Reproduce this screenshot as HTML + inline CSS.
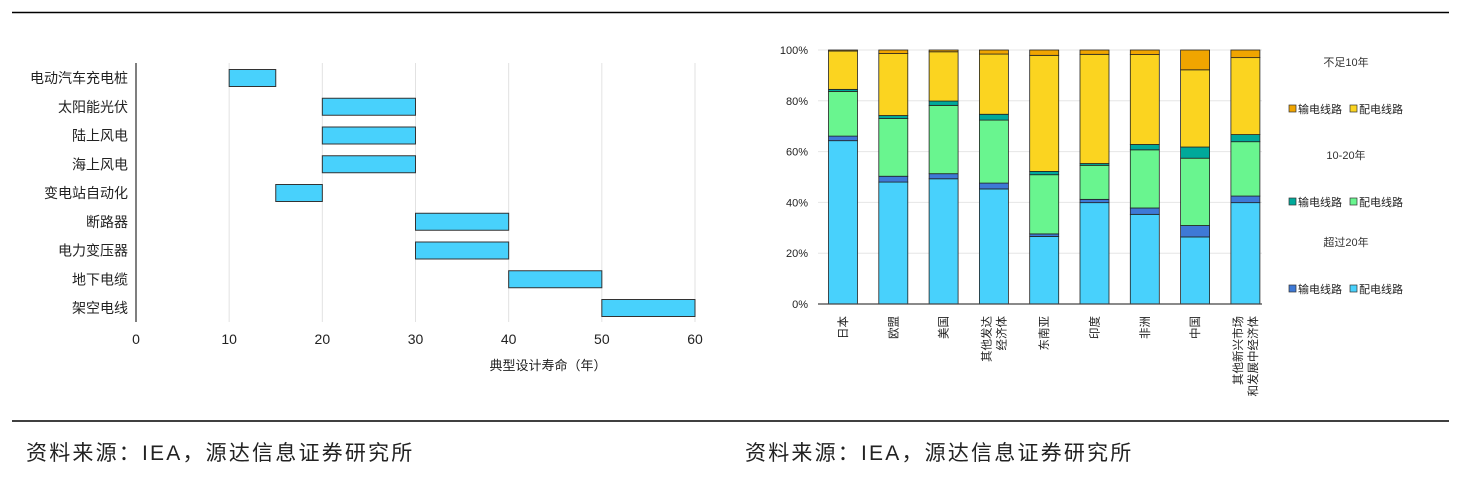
<!DOCTYPE html>
<html><head><meta charset="utf-8">
<style>
body{margin:0;background:#fff;width:1473px;height:481px;overflow:hidden;font-family:"Liberation Sans","Noto Sans CJK SC",sans-serif;}
svg{position:absolute;left:0;top:0}
text{font-family:"Liberation Sans","Noto Sans CJK SC",sans-serif;}
</style></head>
<body>
<svg id="s" width="1473" height="481">
<line x1="12" y1="12.5" x2="1449" y2="12.5" stroke="#000" stroke-width="1.5"/>
<line x1="12" y1="421" x2="1449" y2="421" stroke="#000" stroke-width="1.5"/>
<text x="26" y="460" font-size="21" letter-spacing="2.2" fill="#222">资料来源：IEA，源达信息证券研究所</text>
<text x="745" y="460" font-size="21" letter-spacing="2.2" fill="#222">资料来源：IEA，源达信息证券研究所</text>
<g id="left"></g>
<g id="right"></g>
</svg>
<script>
const NS="http://www.w3.org/2000/svg";
function mk(p,t,a,txt){const e=document.createElementNS(NS,t);for(const k in a)e.setAttribute(k,a[k]);if(txt!==undefined)e.textContent=txt;p.appendChild(e);return e;}

// Left chart data
const lCats=["电动汽车充电桩","太阳能光伏","陆上风电","海上风电","变电站自动化","断路器","电力变压器","地下电缆","架空电线"];
const lStart=[10,20,20,20,15,30,30,40,50];
const lEnd=[15,30,30,30,20,40,40,50,60];
const lTicks=[0,10,20,30,40,50,60];

// Right chart data
const rCats=[["日本"],["欧盟"],["美国"],["其他发达","经济体"],["东南亚"],["印度"],["非洲"],["中国"],["其他新兴市场","和发展中经济体"]];
const over20Dist=[64.3,48.0,49.3,45.3,26.6,39.9,35.3,26.4,39.9];
const over20Trans=[1.8,2.3,2.0,2.3,1.0,1.3,2.5,4.5,2.6];
const mid10Dist=[17.6,22.7,26.9,24.8,23.3,13.4,22.9,26.5,21.4];
const mid10Trans=[0.8,1.2,1.7,2.3,1.3,0.7,2.1,4.4,2.8];
const under10Dist=[15.1,24.4,19.4,23.7,45.7,43.0,35.4,30.4,30.3];
const under10Trans=[0.4,1.4,0.7,1.6,2.1,1.7,1.8,7.8,3.0];
const rTicks=[0,20,40,60,80,100];

// ---- left
const L=document.getElementById('left');
const lx=v=>136+v*(695-136)/60;
const ly=i=>78+i*28.75;
lTicks.forEach(t=>{
  if(t>0){const g=mk(L,'line',{x1:lx(t),x2:lx(t),y1:63,y2:322,stroke:'#e2e2e2','stroke-width':1});
  }
  const tx=mk(L,'text',{x:lx(t),y:344,'font-size':14,fill:'#222','text-anchor':'middle'},t);
  
});
lCats.forEach((c,i)=>{
  const r=mk(L,'rect',{x:lx(lStart[i]),y:ly(i)-8.5,width:lx(lEnd[i])-lx(lStart[i]),height:17,fill:'#48D1FC',stroke:'#333','stroke-width':1});
  
  const t=mk(L,'text',{x:128,y:ly(i)+5,'font-size':14,fill:'#222','text-anchor':'end'},c);
  
});
const la=mk(L,'line',{x1:136,x2:136,y1:63,y2:322,stroke:'#555','stroke-width':1.5});

const lt=mk(L,'text',{x:548,y:370,'font-size':13,fill:'#222','text-anchor':'middle'},'典型设计寿命（年）');


// ---- right
const R=document.getElementById('right');
const ry=v=>304-v*2.54;
const rx=i=>843+i*50.3;
rTicks.forEach(t=>{
  if(t>0){const g=mk(R,'line',{x1:818,x2:1262,y1:ry(t),y2:ry(t),stroke:'#e6e6e6','stroke-width':1});
  }
  const tx=mk(R,'text',{x:808,y:ry(t)+4,'font-size':11,fill:'#222','text-anchor':'end'},t+'%');
  
});
const series=[[over20Dist,'#48D1FC'],[over20Trans,'#3E79D6'],[mid10Dist,'#69F58F'],[mid10Trans,'#00A99A'],[under10Dist,'#FBD420'],[under10Trans,'#F0A500']];
rCats.forEach((c,i)=>{
  let cum=0;
  series.forEach(([arr,col])=>{
    const v=arr[i];
    const r=mk(R,'rect',{x:rx(i)-14.5,y:ry(cum+v),width:29,height:ry(cum)-ry(cum+v),fill:col,stroke:'#222','stroke-width':0.8});
    
    cum+=v;
  });
  c.forEach((line,j)=>{
    const xx=rx(i)+4+(j-(c.length-1)/2)*15;
    const t=mk(R,'text',{x:xx,y:316,'font-size':11.5,fill:'#222','text-anchor':'end',transform:`rotate(-90 ${xx} 316)`},line);
    
  });
});
const ra=mk(R,'line',{x1:818,x2:1262,y1:304,y2:304,stroke:'#444','stroke-width':1.2});


// legend
const groups=[['不足10年',62,'#F0A500','#FBD420'],['10-20年',155,'#00A99A','#69F58F'],['超过20年',242,'#3E79D6','#48D1FC']];
groups.forEach(([title,y,c1,c2])=>{
  const t=mk(R,'text',{x:1346,y:y+4,'font-size':11,fill:'#333','text-anchor':'middle'},title);
  
  const yy=y+47;
  [[c1,1289],[c2,1350]].forEach(([col,x])=>{
    const s=mk(R,'rect',{x:x,y:yy-4,width:7,height:7,fill:col,stroke:'#333','stroke-width':0.7});
    
    const l=mk(R,'text',{x:x+9,y:yy+4,'font-size':11,fill:'#222'},x===1289?'输电线路':'配电线路');
    
  });
});
</script>
</body></html>
